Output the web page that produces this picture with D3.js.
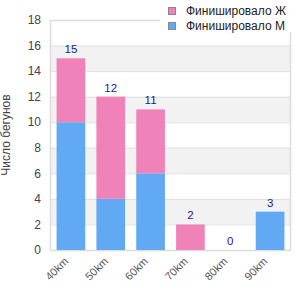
<!DOCTYPE html>
<html>
<head>
<meta charset="UTF-8">
<script src="https://cdn.jsdelivr.net/npm/d3@7"></script>
<style>
  body { margin: 0; background: #fff; }
  svg { display: block; font-family: "Liberation Sans", Arial, sans-serif; }
</style>
</head>
<body>
<svg></svg>
<script>
const categories = ["40km", "50km", "60km", "70km", "80km", "90km"];
const male = [10, 4, 6, 0, 0, 3];
const female = [5, 8, 5, 2, 0, 0];
const seriesNames = ["Финишировало Ж", "Финишировало М"];
const yTicks = [0, 2, 4, 6, 8, 10, 12, 14, 16, 18];

const width = 300, height = 300;
const margin = {top: 20, right: 10, bottom: 50, left: 51};

const svg = d3.select("svg").attr("width", width).attr("height", height);

const x = d3.scaleBand()
  .domain(categories)
  .range([margin.left, width - margin.right])
  .paddingInner(0.28)
  .paddingOuter(0.14);

const y = d3.scaleLinear()
  .domain([0, 18])
  .range([height - margin.bottom, margin.top]);

// alternating stripes
const stripes = d3.range(2, 18, 4);
svg.append("g").selectAll("rect")
  .data(stripes)
  .join("rect")
    .attr("x", margin.left)
    .attr("width", width - margin.right - margin.left)
    .attr("y", d => y(d + 2))
    .attr("height", d => y(d) - y(d + 2))
    .attr("fill", "#f2f2f2");

// grid lines
svg.append("g").selectAll("line")
  .data(yTicks)
  .join("line")
    .attr("x1", margin.left)
    .attr("x2", width - margin.right)
    .attr("y1", d => y(d) + 0.5)
    .attr("y2", d => y(d) + 0.5)
    .attr("stroke", "#e0e0e0");

// plot frame
svg.append("rect")
  .attr("x", margin.left - 0.5)
  .attr("y", margin.top + 0.5)
  .attr("width", width - margin.right - margin.left + 1)
  .attr("height", y(0) - margin.top)
  .attr("fill", "none")
  .attr("stroke", "#dcdcdc")
  .attr("stroke-width", 1.5);

const data = categories.map((c, i) => ({cat: c, m: male[i], f: female[i]}));
const stack = d3.stack().keys(["m", "f"])(data);
const colors = {m: "#62a9f3", f: "#f082ba"};

svg.append("g").selectAll("g")
  .data(stack)
  .join("g")
    .attr("fill", d => colors[d.key])
  .selectAll("rect")
  .data(d => d)
  .join("rect")
    .attr("x", d => x(d.data.cat))
    .attr("width", x.bandwidth())
    .attr("y", d => y(d[1]))
    .attr("height", d => y(d[0]) - y(d[1]));

// totals
svg.append("g").selectAll("text")
  .data(data)
  .join("text")
    .attr("x", d => x(d.cat) + x.bandwidth() / 2)
    .attr("y", d => y(d.m + d.f) - 5)
    .attr("text-anchor", "middle")
    .attr("font-size", 11.5)
    .attr("fill", "#1a1a8f")
    .text(d => d.m + d.f);

// y axis labels
svg.append("g").selectAll("text")
  .data(yTicks)
  .join("text")
    .attr("x", margin.left - 10)
    .attr("y", d => y(d))
    .attr("dy", "0.35em")
    .attr("text-anchor", "end")
    .attr("font-size", 12)
    .attr("fill", "#444")
    .text(d => d);

// x axis labels
svg.append("g").selectAll("text")
  .data(categories)
  .join("text")
    .attr("text-anchor", "end")
    .attr("font-size", 11)
    .attr("fill", "#555")
    .attr("transform", d => `translate(${x(d) + x.bandwidth() / 2 - 2},${y(0) + 12}) rotate(-45)`)
    .text(d => d);

// y title
svg.append("text")
  .attr("transform", `translate(10,${(y(0) + margin.top) / 2}) rotate(-90)`)
  .attr("text-anchor", "middle")
  .attr("font-size", 12)
  .attr("fill", "#444")
  .text("Число бегунов");

// legend
const legend = svg.append("g");
legend.append("rect")
  .attr("x", 160).attr("y", 0).attr("width", 140).attr("height", 32)
  .attr("fill", "#fff");
const items = legend.selectAll("g")
  .data(seriesNames)
  .join("g")
    .attr("transform", (d, i) => `translate(168,${7 + i * 15})`);
items.append("rect")
  .attr("x", 0.5).attr("y", 0.5)
  .attr("width", 7).attr("height", 7)
  .attr("fill", (d, i) => i === 0 ? colors.f : colors.m)
  .attr("stroke", "#888");
items.append("text")
  .attr("x", 18)
  .attr("y", 4)
  .attr("dy", "0.35em")
  .attr("font-size", 12)
  .attr("fill", "#222")
  .text(d => d);
</script>
</body>
</html>
